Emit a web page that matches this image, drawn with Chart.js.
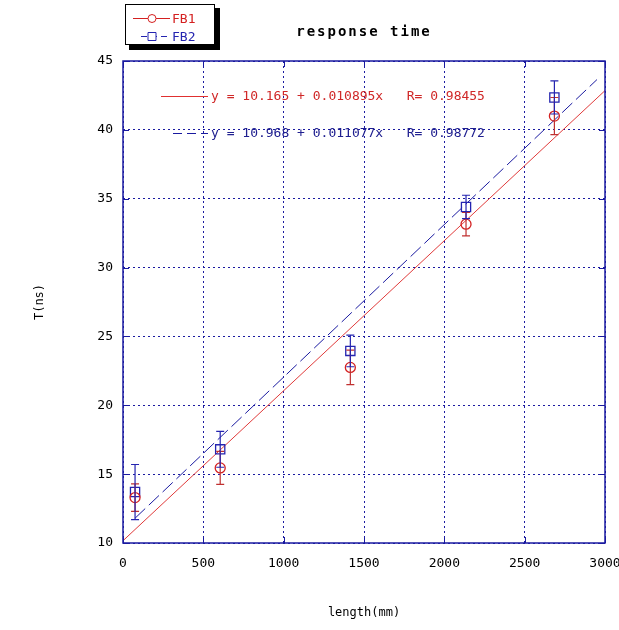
<!DOCTYPE html>
<html>
  <head>
    <title>response time</title>
    <style>
      html, body { margin: 0; padding: 0; background: #fff; }
      #wrap { width: 619px; height: 630px; }
    </style>
  </head>
  <body>
    <script src="https://cdn.jsdelivr.net/npm/chart.js@4/dist/chart.umd.min.js"></script>

    <div id="wrap"><canvas id="rtChart" width="619" height="630"></canvas></div>

    <script>
      // values
      const lengths = [75, 605, 1415, 2135, 2685];
      const fb1 = [13.3, 15.45, 22.75, 33.15, 41.0];
      const fb1Err = [1.0, 1.2, 1.25, 0.85, 1.35];
      const fb2 = [13.7, 16.8, 23.95, 34.4, 42.35];
      const fb2Err = [2.0, 1.3, 1.15, 0.85, 1.2];

      // fitted lines, end points as drawn
      const fit1X = [0, 3000];
      const fit1Y = [10.165, 42.85];
      const fit2X = [75, 2950];
      const fit2Y = [11.8, 43.65];
      const fitText = [
        "y = 10.165 + 0.010895x   R= 0.98455",
        "y = 10.968 + 0.011077x   R= 0.98772"
      ];

      const xTicks = [0, 500, 1000, 1500, 2000, 2500, 3000];
      const yTicks = [10, 15, 20, 25, 30, 35, 40, 45];

      const RED = "#d42020";
      const BLUE = "#2424b0";
      const NAVY = "#1a1aa0";
      const FONT = "'DejaVu Sans Mono', monospace";

      const pts = (xs, ys) => xs.map((x, i) => ({ x: x, y: ys[i] }));

      // error bars drawn through the scales
      const errorBars = {
        id: "errorBars",
        afterDatasetsDraw(chart) {
          const { ctx, scales: { x, y } } = chart;
          const sets = [[fb1, fb1Err, "#c03030"], [fb2, fb2Err, BLUE]];
          ctx.save();
          ctx.lineWidth = 1.2;
          for (const [vals, errs, col] of sets) {
            ctx.strokeStyle = col;
            vals.forEach((v, i) => {
              const px = x.getPixelForValue(lengths[i]);
              const top = y.getPixelForValue(v + errs[i]);
              const bot = y.getPixelForValue(v - errs[i]);
              ctx.beginPath();
              ctx.moveTo(px, top); ctx.lineTo(px, bot);
              ctx.moveTo(px - 4, top); ctx.lineTo(px + 4, top);
              ctx.moveTo(px - 4, bot); ctx.lineTo(px + 4, bot);
              ctx.stroke();
            });
          }
          ctx.restore();
        }
      };

      // frame, inner tick marks, fit equations, legend box and title
      const decorations = {
        id: "decorations",
        afterDraw(chart) {
          const { ctx, chartArea: a, scales: { x, y } } = chart;
          ctx.save();

          // frame
          ctx.strokeStyle = NAVY;
          ctx.lineWidth = 1.5;
          ctx.strokeRect(a.left, a.top, a.right - a.left, a.bottom - a.top);
          ctx.lineWidth = 1;
          ctx.beginPath();
          xTicks.forEach(t => {
            const px = Math.round(x.getPixelForValue(t)) + 0.5;
            ctx.moveTo(px, a.bottom); ctx.lineTo(px, a.bottom - 6);
            ctx.moveTo(px, a.top); ctx.lineTo(px, a.top + 6);
          });
          yTicks.forEach(t => {
            const py = Math.round(y.getPixelForValue(t)) + 0.5;
            ctx.moveTo(a.left, py); ctx.lineTo(a.left + 6, py);
            ctx.moveTo(a.right, py); ctx.lineTo(a.right - 6, py);
          });
          ctx.stroke();

          // fit equations
          ctx.font = "13px " + FONT;
          ctx.textBaseline = "middle";
          ctx.textAlign = "left";
          const ex = a.left + 88;
          ctx.strokeStyle = "#e03030";
          ctx.lineWidth = 1;
          ctx.beginPath();
          ctx.moveTo(a.left + 38, 96.5); ctx.lineTo(ex - 3, 96.5);
          ctx.stroke();
          ctx.fillStyle = "#d02828";
          ctx.fillText(fitText[0], ex, 97);
          ctx.strokeStyle = NAVY;
          ctx.setLineDash([9, 5]);
          ctx.beginPath();
          ctx.moveTo(a.left + 50, 133.5); ctx.lineTo(ex - 3, 133.5);
          ctx.stroke();
          ctx.setLineDash([]);
          ctx.fillStyle = "#202090";
          ctx.fillText(fitText[1], ex, 134);

          // legend box with drop shadow
          ctx.fillStyle = "#000";
          ctx.fillRect(129, 8, 91, 42);
          ctx.fillStyle = "#fff";
          ctx.fillRect(125, 4, 90, 41);
          ctx.strokeStyle = "#000";
          ctx.lineWidth = 1;
          ctx.strokeRect(125.5, 4.5, 89, 40);

          const items = chart.data.datasets.slice(0, 2);
          items.forEach((ds, i) => {
            const ly = 18.5 + i * 18;
            ctx.strokeStyle = ds.borderColor;
            ctx.lineWidth = 1;
            if (i === 1) ctx.setLineDash([6, 4]);
            ctx.beginPath();
            ctx.moveTo(i === 1 ? 141 : 133, ly); ctx.lineTo(170, ly);
            ctx.stroke();
            ctx.setLineDash([]);
            ctx.fillStyle = "#fff";
            ctx.beginPath();
            if (i === 0) {
              ctx.arc(152, ly, 4, 0, Math.PI * 2);
            } else {
              ctx.rect(148, ly - 4, 8, 8);
            }
            ctx.fill();
            ctx.stroke();
            ctx.fillStyle = ds.borderColor;
            ctx.font = "13px " + FONT;
            ctx.fillText(ds.label, 172, ly + 1);
          });

          // title
          ctx.fillStyle = "#000";
          ctx.font = "bold 14px " + FONT;
          ctx.textAlign = "center";
          ctx.letterSpacing = "2px";
          ctx.fillText("response time", 364, 32);
          ctx.restore();
        }
      };

      const ctx = document.getElementById("rtChart").getContext("2d");

      const chart = new Chart(ctx, {
        type: "scatter",
        data: {
          datasets: [
            {
              label: "FB1",
              data: pts(lengths, fb1),
              borderColor: RED,
              backgroundColor: "rgba(0,0,0,0)",
              pointStyle: "circle",
              pointRadius: 5,
              pointBorderWidth: 1.3,
              showLine: false
            },
            {
              label: "FB2",
              data: pts(lengths, fb2),
              borderColor: BLUE,
              backgroundColor: "rgba(0,0,0,0)",
              pointStyle: "rect",
              pointRadius: 6.5,
              pointBorderWidth: 1.3,
              showLine: false
            },
            {
              label: "FB1 fit",
              data: pts(fit1X, fit1Y),
              borderColor: "#e03a3a",
              borderWidth: 1,
              pointRadius: 0,
              showLine: true
            },
            {
              label: "FB2 fit",
              data: pts(fit2X, fit2Y),
              borderColor: NAVY,
              borderWidth: 1,
              borderDash: [14, 5],
              pointRadius: 0,
              showLine: true
            }
          ]
        },
        options: {
          responsive: false,
          animation: false,
          layout: { padding: { top: 61, right: 14, left: 0, bottom: 0 } },
          plugins: {
            legend: { display: false },
            title: { display: false },
            tooltip: { enabled: false }
          },
          scales: {
            x: {
              type: "linear",
              min: 0,
              max: 3000,
              afterBuildTicks: s => { s.ticks = xTicks.map(v => ({ value: v })); },
              afterFit: s => { s.height = 87; s.paddingLeft = 0; s.paddingRight = 0; },
              grid: { color: NAVY, lineWidth: 1, drawTicks: false },
              border: { display: false, dash: [2, 3] },
              ticks: {
                color: "#000",
                padding: 13,
                font: { family: FONT, size: 13 },
                callback: v => String(v)
              },
              title: {
                display: true,
                text: "length(mm)",
                color: "#000",
                font: { family: FONT, size: 12 },
                padding: { top: 0, bottom: 10 }
              }
            },
            y: {
              type: "linear",
              min: 10,
              max: 45,
              afterBuildTicks: s => { s.ticks = yTicks.map(v => ({ value: v })); },
              afterFit: s => { s.width = 123; s.paddingTop = 0; s.paddingBottom = 0; },
              grid: { color: NAVY, lineWidth: 1, drawTicks: false },
              border: { display: false, dash: [2, 3] },
              ticks: {
                color: "#000",
                padding: 10,
                font: { family: FONT, size: 13 },
                callback: v => String(v)
              },
              title: {
                display: true,
                text: "T(ns)",
                color: "#000",
                font: { family: FONT, size: 12 },
                padding: { top: 33, bottom: 0 }
              }
            }
          }
        },
        plugins: [errorBars, decorations]
      });
    </script>
  </body>
</html>
